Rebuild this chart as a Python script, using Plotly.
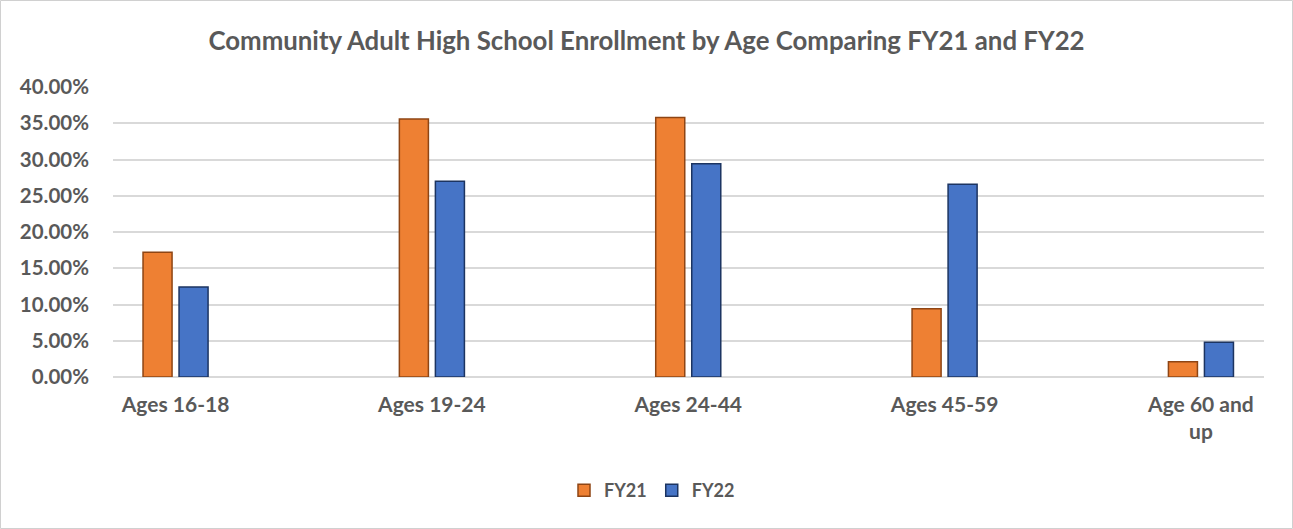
import plotly.graph_objects as go

categories = ["Ages 16-18", "Ages 19-24", "Ages 24-44", "Ages 45-59", "Age 60 and<br>up"]
fy21 = [0.172, 0.356, 0.358, 0.094, 0.021]
fy22 = [0.124, 0.270, 0.294, 0.266, 0.048]
y_ticks = [0, 0.05, 0.10, 0.15, 0.20, 0.25, 0.30, 0.35, 0.40]

W, H = 1293, 529
L, R, T, B = 113, 29, 87, 152
pw, ph = W - L - R, H - T - B

FONT = "Lato"
GRAY = "#595959"

fig = go.Figure()
fig.add_trace(go.Bar(
    name="FY21", x=categories, y=fy21,
    marker=dict(color="#EE8033", line=dict(color="#8E4514", width=1.5)),
))
fig.add_trace(go.Bar(
    name="FY22", x=categories, y=fy22,
    marker=dict(color="#4674C6", line=dict(color="#1C3461", width=1.5)),
))

fig.update_layout(
    width=W, height=H,
    margin=dict(l=L, r=R, t=T, b=B),
    paper_bgcolor="white", plot_bgcolor="white",
    barmode="group", bargap=0.719, bargroupgap=0.194,
    title=dict(text="Community Adult High School Enrollment by Age Comparing FY21 and FY22",
               x=0.5, xanchor="center", y=1 - 41 / H, yanchor="middle",
               font=dict(family=FONT, size=25.8, color=GRAY, weight="bold")),
    font=dict(family=FONT, color=GRAY, weight="bold"),
    legend=dict(orientation="h", x=(652 - L) / pw, xanchor="center", y=-(490 - 376.5) / ph, yanchor="middle",
                font=dict(family=FONT, size=18, color=GRAY, weight="bold"), itemwidth=30,
                traceorder="normal"),
    xaxis=dict(range=[-0.244, 4.246], showgrid=False, showline=False, zeroline=False,
               tickfont=dict(family=FONT, size=21, color=GRAY, weight="bold"),
               ticks="", ticklabelstandoff=13),
    yaxis=dict(range=[0, 0.40], tickvals=y_ticks, tickformat=".2%",
               showgrid=True, gridcolor="#D9D9D9", gridwidth=1.5,
               zeroline=True, zerolinecolor="#D9D9D9", zerolinewidth=1.5,
               showline=False, ticks="", ticklabelstandoff=23,
               tickfont=dict(family=FONT, size=20.5, color=GRAY, weight="bold")),
    shapes=[dict(type="rect", xref="paper", yref="paper",
                 x0=-(L - 0.5) / pw, x1=1 + (R - 0.5) / pw,
                 y0=-(B - 0.5) / ph, y1=1 + (T - 0.5) / ph,
                 line=dict(color="#D0D0D0", width=1), fillcolor="rgba(0,0,0,0)")],
)

fig.write_html("out.html", config={"displayModeBar": False},
               post_script="document.body.style.margin='0';document.body.style.overflow='hidden';")
